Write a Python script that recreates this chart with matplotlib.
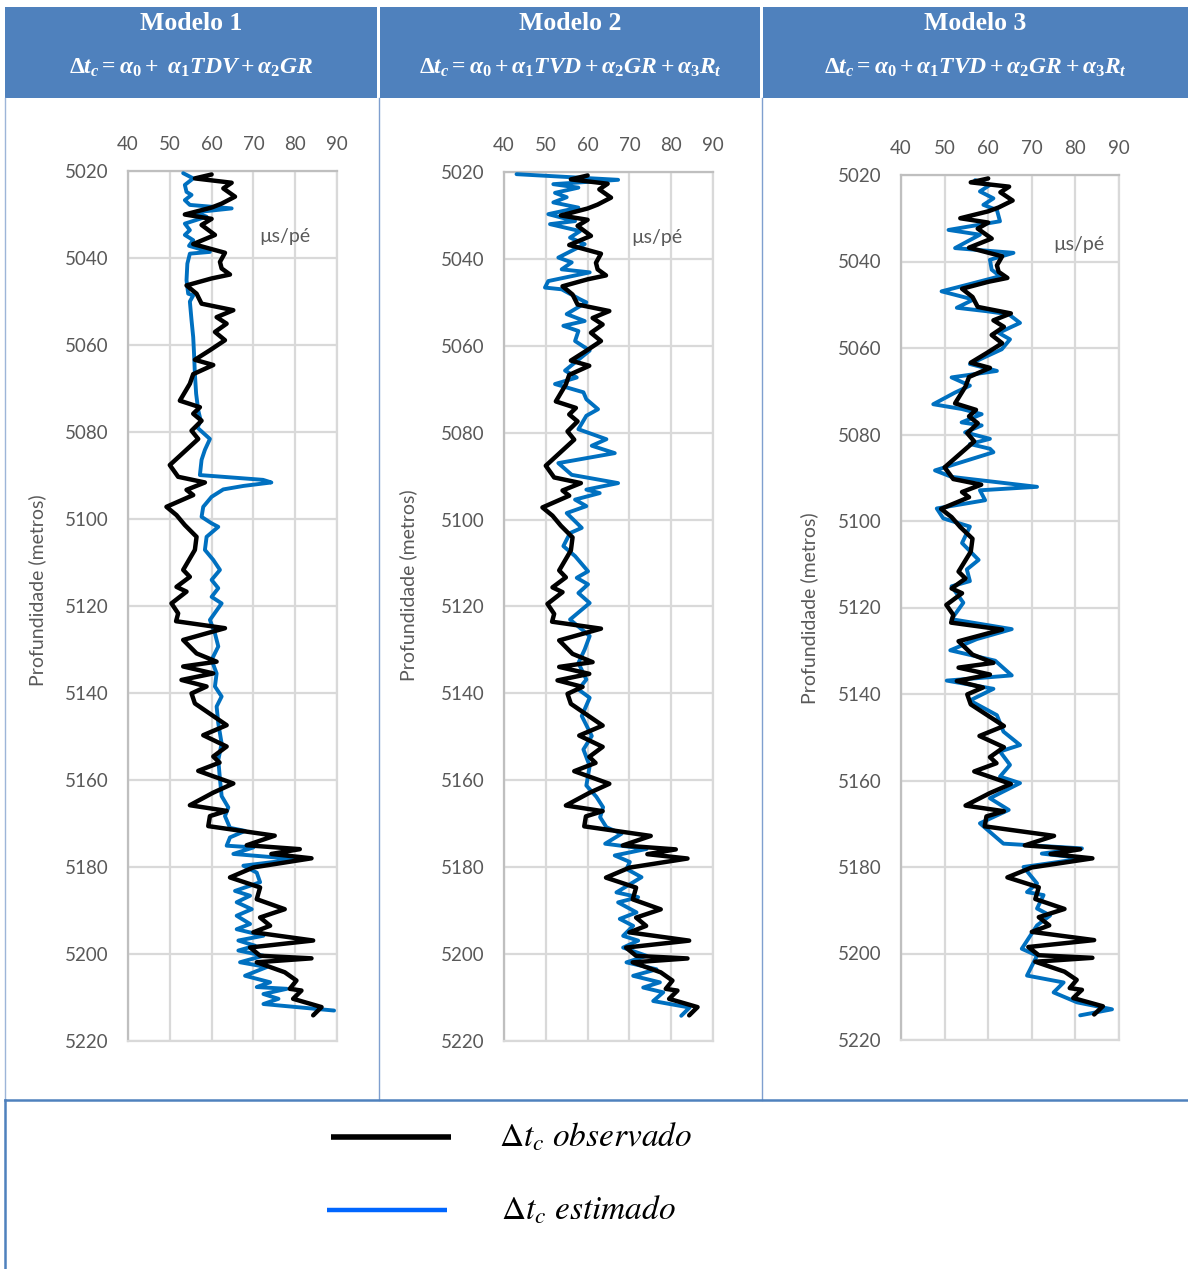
import matplotlib
matplotlib.use("Agg")
import matplotlib.pyplot as plt
from matplotlib.patches import Rectangle
from matplotlib.lines import Line2D

# ---------------- data ----------------
depth_ticks = [5020, 5040, 5060, 5080, 5100, 5120, 5140, 5160, 5180, 5200, 5220]
dt_ticks = [40, 50, 60, 70, 80, 90]

model_titles = ["Modelo 1", "Modelo 2", "Modelo 3"]
model_formulas = [
    r"$\Delta t_c = \alpha_0 +\ \alpha_1 TDV + \alpha_2 GR$",
    r"$\Delta t_c = \alpha_0 + \alpha_1 TVD + \alpha_2 GR + \alpha_3 R_t$",
    r"$\Delta t_c = \alpha_0 + \alpha_1 TVD + \alpha_2 GR + \alpha_3 R_t$",
]
y_label = "Profundidade (metros)"
unit_label = "µs/pé"
legend_labels = [r"$\Delta t_c\ observado$", r"$\Delta t_c\ estimado$"]

# observed sonic transit time (same log in the three panels)
obs_depth = [5020.8, 5021.7, 5022.7, 5024.0, 5025.9, 5027.5, 5028.4, 5030.0, 5031.0, 5032.4,
             5034.7, 5036.8, 5038.8, 5040.9, 5042.4, 5043.8, 5044.7, 5046.3, 5048.2, 5050.5,
             5052.0, 5053.6, 5055.1, 5057.0, 5058.9, 5061.2, 5063.4, 5064.6, 5066.7, 5068.9,
             5072.8, 5074.3, 5075.8, 5077.4, 5079.7, 5081.6, 5087.6, 5090.3, 5091.6, 5093.3,
             5094.5, 5097.2, 5099.1, 5101.4, 5104.1, 5107.1, 5111.7, 5113.3, 5115.6, 5116.7,
             5119.4, 5121.7, 5123.5, 5125.1, 5127.8, 5130.9, 5132.8, 5133.9, 5135.5, 5137.0,
             5138.5, 5140.1, 5142.4, 5147.4, 5149.7, 5152.3, 5154.6, 5156.0, 5157.9, 5160.8,
             5162.9, 5165.8, 5167.1, 5168.3, 5170.6, 5172.8, 5175.0, 5175.9, 5177.0, 5178.0,
             5180.1, 5182.4, 5184.7, 5187.4, 5189.7, 5191.6, 5193.5, 5195.0, 5196.9, 5198.5,
             5200.4, 5201.0, 5201.9, 5204.2, 5206.1, 5208.0, 5208.4, 5210.3, 5212.2, 5214.1]
obs_dt = [60.0, 56.0, 64.8, 62.8, 65.6, 62.4, 60.0, 53.6, 60.0, 57.6,
          60.8, 55.6, 63.2, 62.0, 62.4, 64.4, 60.0, 54.0, 56.4, 57.6,
          65.2, 61.2, 63.6, 60.8, 63.2, 59.6, 56.0, 60.4, 55.6, 54.8,
          52.4, 57.2, 55.6, 57.6, 55.2, 56.8, 50.0, 52.0, 58.4, 54.0,
          55.6, 49.2, 51.6, 53.6, 56.4, 56.0, 53.2, 54.8, 51.6, 54.0,
          50.4, 52.0, 51.5, 63.2, 53.2, 56.4, 61.2, 53.2, 60.4, 52.8,
          58.8, 55.2, 56.0, 63.6, 58.0, 63.6, 60.4, 61.9, 56.8, 65.2,
          60.4, 54.8, 63.6, 59.6, 59.2, 75.1, 68.4, 81.1, 74.3, 83.9,
          70.0, 64.4, 71.6, 70.8, 77.5, 71.6, 74.0, 70.0, 84.3, 69.2,
          71.6, 83.9, 70.8, 77.5, 80.3, 78.7, 81.5, 79.5, 86.3, 84.3]

# Modelo 1 estimate
est1_depth = [5020.5, 5021.7, 5023.2, 5024.8, 5025.5, 5026.7, 5027.8, 5028.6, 5029.5, 5030.5,
              5032.1, 5033.6, 5034.7, 5035.9, 5037.2, 5038.6, 5039.0, 5041.3, 5045.1, 5048.2,
              5048.6, 5050.0, 5054.3, 5058.2, 5062.0, 5066.6, 5071.2, 5075.0, 5077.4, 5079.0,
              5081.6, 5084.1, 5086.4, 5089.9, 5091.0, 5091.6, 5092.4, 5093.2, 5094.9, 5097.2,
              5099.5, 5101.0, 5101.8, 5104.1, 5107.1, 5109.4, 5111.7, 5114.0, 5115.9, 5117.9,
              5119.4, 5123.2, 5126.3, 5129.3, 5132.4, 5135.5, 5138.5, 5140.8, 5143.1, 5147.0,
              5151.6, 5155.4, 5159.8, 5163.7, 5166.3, 5168.3, 5171.0, 5171.7, 5173.2, 5175.1,
              5175.5, 5177.0, 5178.2, 5179.7, 5181.3, 5183.5, 5185.5, 5186.6, 5188.1, 5189.7,
              5191.2, 5193.1, 5194.3, 5195.8, 5196.9, 5198.1, 5199.2, 5200.4, 5201.9, 5203.0,
              5205.0, 5206.5, 5207.6, 5208.0, 5209.2, 5210.3, 5211.5, 5213.0]
est1_dt = [53.2, 55.6, 53.6, 54.0, 55.2, 53.6, 54.8, 64.8, 56.0, 58.8,
           53.6, 54.8, 53.6, 55.6, 54.6, 59.6, 54.8, 54.2, 54.0, 54.4,
           55.6, 54.8, 55.2, 55.6, 55.8, 56.0, 56.3, 56.8, 57.4, 56.6,
           59.6, 58.4, 57.6, 57.2, 72.3, 74.3, 67.6, 62.8, 60.0, 58.0,
           57.6, 60.0, 61.6, 58.8, 58.4, 60.4, 62.0, 60.0, 61.6, 60.0,
           62.4, 59.6, 60.8, 61.6, 60.0, 61.2, 60.8, 62.4, 61.2, 61.6,
           62.4, 61.6, 62.0, 62.4, 64.0, 63.2, 64.4, 68.0, 64.4, 63.6,
           70.0, 65.2, 80.3, 67.6, 70.8, 71.6, 65.6, 69.2, 66.0, 69.6,
           66.0, 69.2, 66.0, 72.4, 66.4, 70.4, 66.4, 72.4, 66.8, 73.2,
           68.0, 74.0, 70.8, 78.0, 72.4, 76.0, 72.4, 89.3]

# Modelo 2 estimate
est2_depth = [5020.5, 5021.8, 5022.8, 5023.6, 5024.8, 5025.8, 5027.0, 5028.2, 5029.7, 5031.3,
              5032.0, 5033.6, 5035.1, 5036.6, 5039.7, 5040.8, 5042.4, 5043.1, 5045.1, 5046.6,
              5047.0, 5049.3, 5050.0, 5052.7, 5054.3, 5055.4, 5056.6, 5058.9, 5061.1, 5065.7,
              5067.3, 5068.8, 5070.7, 5072.3, 5074.6, 5076.1, 5079.2, 5081.5, 5083.0, 5084.7,
              5087.0, 5089.7, 5091.6, 5093.1, 5093.9, 5095.4, 5096.9, 5098.5, 5101.9, 5103.1,
              5106.1, 5108.4, 5111.9, 5113.4, 5114.9, 5116.9, 5119.2, 5123.0, 5126.8, 5129.9,
              5133.0, 5136.8, 5139.1, 5141.0, 5145.2, 5149.8, 5152.9, 5156.7, 5161.2, 5163.8,
              5166.2, 5168.5, 5170.8, 5172.3, 5174.6, 5175.8, 5177.3, 5178.8, 5180.4, 5182.3,
              5185.8, 5186.9, 5188.1, 5190.4, 5191.9, 5193.5, 5195.8, 5196.9, 5198.5, 5200.4,
              5201.9, 5203.5, 5205.0, 5206.5, 5207.7, 5208.8, 5210.8, 5212.3, 5214.2]
est2_dt = [43.0, 67.3, 51.8, 57.8, 52.2, 55.0, 51.8, 57.8, 50.6, 57.0,
           51.0, 58.2, 55.8, 59.3, 53.0, 56.2, 53.8, 60.5, 50.6, 49.8,
           53.8, 58.2, 59.7, 55.0, 59.3, 54.2, 57.8, 57.0, 60.5, 54.6,
           57.4, 52.2, 59.0, 59.7, 62.5, 59.7, 57.8, 64.5, 61.0, 66.5,
           53.0, 56.2, 67.3, 59.7, 62.9, 57.0, 59.7, 55.0, 58.6, 55.8,
           54.2, 57.0, 60.1, 57.4, 60.1, 57.8, 60.5, 55.8, 60.5, 59.3,
           57.8, 59.7, 57.8, 60.5, 58.6, 61.0, 59.0, 60.5, 59.7, 62.1,
           63.7, 63.0, 64.5, 68.1, 64.2, 74.1, 66.5, 70.1, 69.3, 72.9,
           66.9, 72.1, 67.3, 71.7, 67.7, 70.9, 68.5, 72.1, 68.5, 74.1,
           69.3, 76.5, 70.9, 77.3, 73.3, 78.1, 75.7, 84.4, 82.4]

# Modelo 3 estimate
est3_depth = [5021.2, 5022.3, 5023.8, 5025.4, 5026.9, 5028.1, 5030.7, 5032.7, 5033.8, 5036.9,
              5038.0, 5039.6, 5041.9, 5043.4, 5045.3, 5046.9, 5048.8, 5050.7, 5051.5, 5052.2,
              5054.2, 5056.5, 5058.0, 5060.3, 5063.7, 5065.3, 5066.8, 5068.7, 5070.3, 5073.0,
              5074.1, 5075.3, 5077.2, 5077.9, 5079.5, 5081.0, 5082.2, 5083.3, 5084.1, 5088.3,
              5089.8, 5092.1, 5092.9, 5095.2, 5097.1, 5099.4, 5101.3, 5105.1, 5109.0, 5111.2,
              5113.9, 5115.1, 5118.9, 5122.7, 5125.0, 5127.3, 5129.9, 5132.3, 5135.7, 5136.9,
              5138.8, 5141.5, 5144.9, 5148.7, 5151.8, 5153.3, 5156.4, 5159.1, 5160.6, 5164.1,
              5166.8, 5169.9, 5174.6, 5175.7, 5176.9, 5178.0, 5180.0, 5183.8, 5185.8, 5186.5,
              5189.6, 5191.2, 5193.5, 5198.9, 5200.5, 5205.1, 5206.7, 5209.0, 5211.3, 5212.9,
              5214.3]
est3_dt = [57.0, 60.4, 58.1, 61.2, 58.9, 62.0, 62.7, 50.9, 58.1, 52.4,
           65.8, 60.4, 60.8, 62.7, 55.5, 49.3, 56.6, 52.8, 59.7, 64.7,
           67.3, 62.4, 65.0, 63.1, 55.8, 62.0, 51.6, 55.8, 52.4, 47.4,
           53.9, 58.5, 53.9, 58.5, 54.7, 60.4, 55.8, 60.4, 61.2, 47.8,
           51.6, 71.2, 58.1, 59.3, 48.2, 49.7, 55.8, 54.0, 57.8, 55.1,
           55.8, 51.6, 54.3, 51.6, 65.4, 57.4, 51.3, 61.6, 65.4, 50.5,
           61.2, 55.8, 62.0, 63.5, 67.3, 62.7, 65.0, 62.7, 67.3, 60.4,
           64.7, 58.1, 63.5, 81.5, 72.3, 81.9, 68.1, 71.2, 68.9, 72.7,
           71.2, 74.2, 71.2, 67.7, 71.2, 68.9, 77.3, 75.0, 80.4, 88.4,
           81.1]

estimates = [(est1_depth, est1_dt), (est2_depth, est2_dt), (est3_depth, est3_dt)]

# ---------------- styling ----------------
W, H = 1188, 1269
plt.rcParams["font.family"] = ["Lato", "DejaVu Sans"]
plt.rcParams["mathtext.fontset"] = "custom"
plt.rcParams["mathtext.rm"] = "Liberation Serif:bold"
plt.rcParams["mathtext.it"] = "Liberation Serif:italic:bold"
plt.rcParams["mathtext.bf"] = "Liberation Serif:italic:bold"

HEADER_BLUE = "#4F81BD"
EST_BLUE = "#0070C0"
GRID = "#D9D9D9"
SPINE = "#BFBFBF"
TXT = "#595959"

fig = plt.figure(figsize=(W / 100, H / 100), dpi=100)


def fx(x):
    return x / W


def fy(y):
    return 1 - y / H


def rect(x0, y0, x1, y1, **kw):
    fig.add_artist(Rectangle((fx(x0), fy(y1)), fx(x1) - fx(x0), fy(y0) - fy(y1),
                             transform=fig.transFigure, **kw))


def hline(x0, x1, y, **kw):
    fig.add_artist(Line2D([fx(x0), fx(x1)], [fy(y), fy(y)], transform=fig.transFigure, **kw))


def vline(x, y0, y1, **kw):
    fig.add_artist(Line2D([fx(x), fx(x)], [fy(y0), fy(y1)], transform=fig.transFigure, **kw))


# header cells
cells = [(5, 377), (380, 760), (763, 1188)]
for (x0, x1), title, formula in zip(cells, model_titles, model_formulas):
    rect(x0, 7, x1, 98, facecolor=HEADER_BLUE, edgecolor="none")
    cx = fx((x0 + x1) / 2)
    fig.text(cx, fy(24), title, ha="center", va="center", color="white",
             fontsize=18.5, fontweight="bold", family="Liberation Serif")
    fig.text(cx, fy(68), formula, ha="center", va="center", color="white",
             fontsize=17)

# frame lines
vline(5, 98, 1100, color="#9DB5D8", lw=1.0)
vline(378.5, 98, 1100, color="#7F9FCF", lw=1.0)
vline(761.5, 98, 1100, color="#7F9FCF", lw=1.0)
hline(5, 1188, 1100, color=HEADER_BLUE, lw=1.8)
vline(5, 1100, 1269, color=HEADER_BLUE, lw=1.8)

# panels: (left, right, top, bottom) in pixels, y label x, y label y, unit pos
panels = [
    (128, 337, 171, 1041, 46, 590, (77.6, 5035.0)),
    (504, 713, 172, 1041, 417, 585, (76.6, 5035.0)),
    (901, 1119, 175, 1040, 818, 608, (80.7, 5036.0)),
]

for (l, r, t, b, ylx, yly, upos), (ed, ev) in zip(panels, estimates):
    ax = fig.add_axes([fx(l), fy(b), fx(r) - fx(l), fy(t) - fy(b)])
    ax.set_xlim(40, 90)
    ax.set_ylim(5220, 5020)
    ax.set_xticks(dt_ticks)
    ax.set_yticks(depth_ticks)
    ax.set_xticklabels([str(v) for v in dt_ticks])
    ax.set_yticklabels([str(v) for v in depth_ticks])
    ax.xaxis.tick_top()
    ax.tick_params(axis="both", length=0, labelsize=13.5, colors=TXT)
    ax.tick_params(axis="x", pad=13)
    ax.tick_params(axis="y", pad=14)
    ax.grid(True, color=GRID, lw=1.6)
    ax.set_axisbelow(True)
    for side in ["right", "bottom"]:
        ax.spines[side].set_color(GRID)
        ax.spines[side].set_linewidth(1.6)
    for side in ["left", "top"]:
        ax.spines[side].set_color(SPINE)
        ax.spines[side].set_linewidth(1.6)
    ax.plot(ev, ed, color=EST_BLUE, lw=2.8, solid_joinstyle="round",
            solid_capstyle="round", zorder=3)
    ax.plot(obs_dt, obs_depth, color="black", lw=3.2, solid_joinstyle="round",
            solid_capstyle="round", zorder=4)
    ax.text(upos[0], upos[1], unit_label, ha="center", va="center", color=TXT, fontsize=14)
    ax.set_ylabel(y_label, color=TXT, fontsize=14)
    ax.yaxis.set_label_coords((ylx - l) / (r - l), (b - yly) / (b - t))

# legend
hline(331, 451, 1137, color="black", lw=4.0, solid_capstyle="butt")
hline(327, 447, 1210, color="#0066FF", lw=3.2, solid_capstyle="butt")
fig.text(fx(499), fy(1137), legend_labels[0], ha="left", va="center", fontsize=24,
         color="black", math_fontfamily="stix")
fig.text(fx(501), fy(1210), legend_labels[1], ha="left", va="center", fontsize=24,
         color="black", math_fontfamily="stix")

fig.savefig("out.png", dpi=100)
